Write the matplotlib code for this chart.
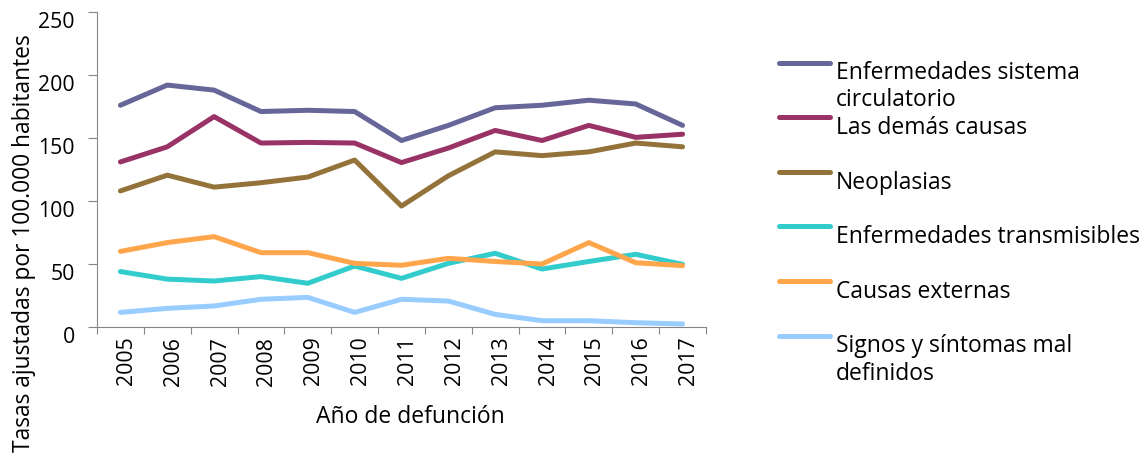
import numpy as np
import matplotlib
matplotlib.use("Agg")
from matplotlib import pyplot as plt
from matplotlib.lines import Line2D
import matplotlib.ticker as ticker
import matplotlib.transforms as mtransforms

plt.rcParams['font.family'] = ['Open Sans', 'DejaVu Sans']

years = ['2005', '2006', '2007', '2008', '2009', '2010', '2011',
         '2012', '2013', '2014', '2015', '2016', '2017']

circulatorio = [176, 192, 188, 171, 172, 171, 148, 160, 174, 176, 180, 177, 160]
demas_causas = [131, 143, 167, 146, 146.5, 146, 130.5, 142, 156, 148, 160, 150.5, 153]
neoplasias = [108, 120.5, 111, 114.5, 119, 132.5, 96, 120, 139, 136, 139, 146, 143]
transmisibles = [44, 38, 36.5, 40, 34.7, 48.4, 38.6, 50.5, 58.5, 46, 52, 57.7, 49.7]
externas = [60, 67, 71.7, 59, 59, 50.5, 49, 54.5, 52, 50, 67, 51, 48.7]
mal_definidos = [11.6, 14.8, 16.7, 22, 23.5, 11.6, 22, 20.6, 10, 5, 5, 3.4, 2.4]

series = [
    (["Enfermedades sistema", "circulatorio"], circulatorio, '#666699'),
    (["Las demás causas"], demas_causas, '#993366'),
    (["Neoplasias"], neoplasias, '#94733A'),
    (["Enfermedades transmisibles"], transmisibles, '#33CCCC'),
    (["Causas externas"], externas, '#FFA64D'),
    (["Signos y síntomas mal", "definidos"], mal_definidos, '#99CCFF'),
]

FS = 16.5      # legend / axis title
TFS = 15.3     # tick labels
W, H = 1144, 461
fig = plt.figure(figsize=(W / 100, H / 100), dpi=100)
ax = fig.add_axes((97 / W, 1 - 327 / H, 609 / W, 315 / H))

x = np.arange(len(years))
for label, vals, col in series:
    ax.plot(x, vals, color=col, lw=3.6, solid_capstyle='round',
            solid_joinstyle='round')

ax.set_xlim(-0.5, len(years) - 0.5)
ax.set_ylim(0, 250)
ax.set_yticks([0, 50, 100, 150, 200, 250])

ax.set_xticks(x)
ax.set_xticklabels(years, rotation=90)
ax.xaxis.set_minor_locator(ticker.FixedLocator(np.arange(-0.5, len(years), 1)))
ax.tick_params(axis='x', which='major', length=0, pad=7, labelsize=TFS)
ax.tick_params(axis='x', which='minor', length=5, width=0.8, color='#868686')
ax.tick_params(axis='y', length=6.5, width=0.8, color='#868686', pad=9.5,
               labelsize=TFS)

# Excel puts the labels a little off the tick positions
dx = mtransforms.ScaledTranslation(6 / 100, 0, fig.dpi_scale_trans)
for lab in ax.get_xticklabels():
    lab.set_transform(lab.get_transform() + dx)
dy = mtransforms.ScaledTranslation(0, -8 / 100, fig.dpi_scale_trans)
for lab in ax.get_yticklabels():
    lab.set_transform(lab.get_transform() + dy)

for s in ['top', 'right']:
    ax.spines[s].set_visible(False)
for s in ['left', 'bottom']:
    ax.spines[s].set_color('#868686')
    ax.spines[s].set_linewidth(0.8)

fig.text(24 / W, 1 - 243 / H, "Tasas ajustadas por 100.000 habitantes",
         rotation=90, ha='center', va='center', fontsize=16.4)
fig.text(410 / W, 1 - 423 / H, "Año de defunción", ha='center',
         va='baseline', fontsize=FS)

# legend drawn by hand to keep Excel-like spacing
leg_y = [62.7, 117.3, 172.3, 226, 281, 336]
for (lines, vals, col), ly in zip(series, leg_y):
    fig.add_artist(Line2D([779 / W, 830 / W], [1 - ly / H, 1 - ly / H],
                          color=col, lw=3.6, solid_capstyle='round',
                          transform=fig.transFigure))
    for k, txt in enumerate(lines):
        fig.text(836 / W, 1 - (ly + 16.5 + k * 27) / H, txt, ha='left',
                 va='baseline', fontsize=FS)

fig.savefig('out.png', dpi=100)
